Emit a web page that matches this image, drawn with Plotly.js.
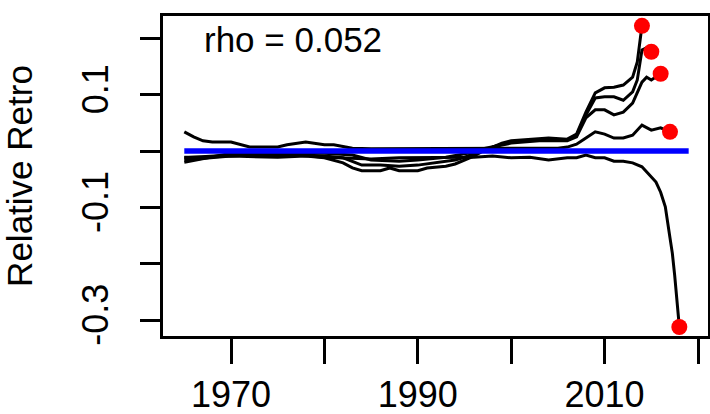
<!DOCTYPE html>
<html>
<head>
<meta charset="utf-8">
<script src="https://cdn.plot.ly/plotly-3.0.1.min.js"></script>
<style>
  html, body { margin: 0; padding: 0; background: #fff; }
  #retro { width: 710px; height: 414px; }
</style>
</head>
<body>
<div id="retro"></div>
<script>
(function () {
    'use strict';

    // retrospective peels, relative to the full run (terminal year = last point)
    var yrs14 = [1965,1968,1970,1975,1978,1980,1982,1983,1984,1986,1987,1988,1990,1991,1993,1994,1995,1996,1997,1998,1999,2000,2002,2004,2006,2007,2008,2009,2010,2011,2012,2013,2013.5,2014];
    var rel14 = [-0.016,-0.011,-0.009,-0.011,-0.009,-0.012,-0.021,-0.030,-0.035,-0.035,-0.030,-0.035,-0.035,-0.030,-0.027,-0.023,-0.016,-0.009,0.000,0.007,0.014,0.018,0.021,0.023,0.021,0.030,0.069,0.103,0.112,0.113,0.117,0.131,0.158,0.222];

    var yrs15 = [1965,1968,1970,1975,1980,1982,1984,1986,1988,1990,1992,1994,1995,1996,1997,1998,1999,2000,2003,2005,2006,2007,2008,2009,2010,2011,2012,2013,2013.5,2014,2014.5,2015];
    var rel15 = [-0.012,-0.009,-0.007,-0.005,-0.009,-0.012,-0.025,-0.025,-0.027,-0.025,-0.021,-0.016,-0.011,-0.005,0.002,0.007,0.012,0.016,0.020,0.020,0.020,0.028,0.064,0.094,0.096,0.096,0.090,0.105,0.126,0.179,0.183,0.176];

    var yrs16 = [1965,1967,1970,1975,1980,1983,1985,1988,1990,1993,1995,1996,1997,1998,1999,2000,2003,2005,2006,2007,2008,2009,2010,2011,2012,2013,2013.5,2014,2014.5,2015,2016];
    var rel16 = [-0.020,-0.014,-0.004,-0.002,-0.004,-0.007,-0.016,-0.018,-0.016,-0.011,-0.005,-0.002,0.004,0.007,0.011,0.014,0.018,0.018,0.018,0.025,0.059,0.073,0.073,0.064,0.069,0.085,0.103,0.122,0.131,0.126,0.137];

    var yrs17 = [1965,1966,1967,1968,1970,1971,1972,1975,1976,1978,1979,1980,1981,1983,1985,1990,1995,2000,2005,2006,2007,2008,2009,2010,2011,2012,2013,2014,2015,2016,2017];
    var rel17 = [0.034,0.025,0.018,0.016,0.016,0.011,0.007,0.007,0.011,0.016,0.014,0.011,0.011,0.005,0.004,0.004,0.004,0.005,0.005,0.007,0.012,0.023,0.034,0.030,0.023,0.023,0.028,0.046,0.037,0.041,0.034];

    var yrs18 = [1965,1967,1970,1972,1975,1977,1980,1982,1985,1988,1990,1993,1996,1998,2000,2002,2004,2006,2007,2008,2009,2010,2011,2012,2013,2014,2015,2015.5,2016,2016.5,2017,2017.25,2017.5,2017.75,2018];
    var rel18 = [-0.011,-0.011,-0.009,-0.007,-0.009,-0.007,-0.011,-0.012,-0.014,-0.012,-0.012,-0.011,-0.011,-0.009,-0.012,-0.011,-0.016,-0.012,-0.012,-0.007,-0.012,-0.012,-0.018,-0.018,-0.021,-0.028,-0.046,-0.055,-0.073,-0.099,-0.154,-0.181,-0.220,-0.273,-0.312];

    var baseYears = [1965, 2019];
    var baseRel = [0, 0];

    var xTickVals = [1970, 1980, 1990, 2000, 2010, 2020];
    var xTickText = ['1970', '', '1990', '', '2010', ''];
    var yTickVals = [-0.3, -0.2, -0.1, 0, 0.1, 0.2];
    var yTickText = ['-0.3', '', '-0.1', '', '0.1', ''];

    var rhoText = 'rho = 0.052';
    var yLabel = 'Relative Retro';

    var peels = [[yrs14, rel14], [yrs15, rel15], [yrs16, rel16], [yrs17, rel17], [yrs18, rel18]];
    var font = 'Liberation Sans, Arial, sans-serif';

    var data = [];
    var endX = [], endY = [];
    peels.forEach(function (p) {
        data.push({
            x: p[0], y: p[1], type: 'scatter', mode: 'lines',
            line: {color: '#000000', width: 3}, hoverinfo: 'skip'
        });
        endX.push(p[0][p[0].length - 1]);
        endY.push(p[1][p[1].length - 1]);
    });

    data.push({
        x: baseYears, y: baseRel, type: 'scatter', mode: 'lines',
        line: {color: '#0000FF', width: 5.5}, hoverinfo: 'skip'
    });

    data.push({
        x: endX, y: endY, type: 'scatter', mode: 'markers',
        marker: {color: '#FF0000', size: 16}, hoverinfo: 'skip'
    });

    var layout = {
        width: 710,
        height: 414,
        margin: {l: 163, r: 2, t: 16, b: 78},
        paper_bgcolor: '#ffffff',
        plot_bgcolor: '#ffffff',
        showlegend: false,
        font: {family: font, color: '#000000'},
        xaxis: {
            range: [1962.72, 2021.07],
            tickvals: xTickVals,
            ticktext: xTickText,
            ticks: 'outside', ticklen: 25, tickwidth: 3, tickcolor: '#000000',
            ticklabelstandoff: 0,
            showline: true, mirror: true, linecolor: '#000000', linewidth: 3,
            showgrid: false, zeroline: false,
            tickfont: {family: font, size: 36, color: '#000000'}
        },
        yaxis: {
            range: [-0.328, 0.2394],
            tickvals: yTickVals,
            ticktext: yTickText,
            tickangle: -90,
            ticks: 'outside', ticklen: 20, tickwidth: 3, tickcolor: '#000000',
            ticklabelstandoff: 18,
            showline: true, mirror: true, linecolor: '#000000', linewidth: 3,
            showgrid: false, zeroline: false,
            tickfont: {family: font, size: 36, color: '#000000'},
            title: {text: yLabel, standoff: 40, font: {family: font, size: 35, color: '#000000'}}
        },
        annotations: [{
            text: rhoText, xref: 'paper', yref: 'paper',
            x: 0.0716, y: 0.925, xanchor: 'left', yanchor: 'middle',
            showarrow: false,
            font: {family: font, size: 35, color: '#000000'}
        }]
    };

    Plotly.newPlot('retro', data, layout, {staticPlot: true, displayModeBar: false});
})();
</script>
</body>
</html>
